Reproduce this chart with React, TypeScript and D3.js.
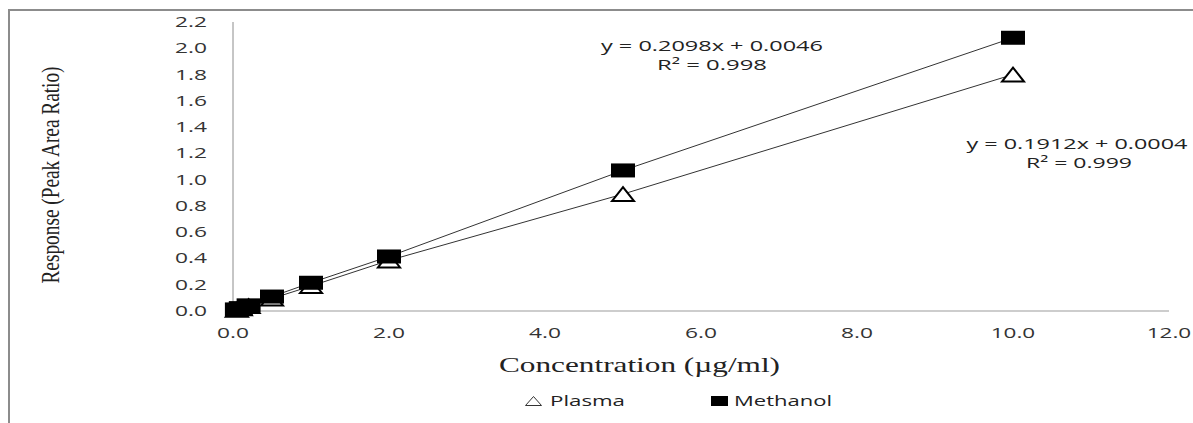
import React from "react";
import * as d3 from "d3";

const concentrations = [0.05, 0.1, 0.2, 0.5, 1, 2, 5, 10];
const plasmaValues = [0.01, 0.02, 0.038, 0.095, 0.19, 0.385, 0.89, 1.8];
const methanolValues = [0.012, 0.022, 0.043, 0.11, 0.215, 0.415, 1.07, 2.08];

const xTicks = [0, 2, 4, 6, 8, 10, 12];
const yTicks = [0, 0.2, 0.4, 0.6, 0.8, 1.0, 1.2, 1.4, 1.6, 1.8, 2.0, 2.2];

const plasmaFit = { eq: "y = 0.1912x + 0.0004", r2: "R² = 0.999" };
const methanolFit = { eq: "y = 0.2098x + 0.0046", r2: "R² = 0.998" };

const W = 1193;
const H = 423;
const sans = "'Open Sans', 'DejaVu Sans', sans-serif";
const serif = "'Liberation Serif', 'DejaVu Serif', serif";

// rough width of a numeric label, the source font is wide
const numWidth = (s: string) =>
  s.split("").reduce((w, c) => w + (c === "." ? 7 : 12.5), 0);

export default function App() {
  const x = d3.scaleLinear().domain([0, 12]).range([233, 1169]);
  const y = d3.scaleLinear().domain([0, 2.2]).range([311, 22]);

  const plasma = concentrations.map((c, i) => [c, plasmaValues[i]] as [number, number]);
  const methanol = concentrations.map((c, i) => [c, methanolValues[i]] as [number, number]);

  const line = d3
    .line<[number, number]>()
    .x((d) => x(d[0]))
    .y((d) => y(d[1]));

  const tri = (cx: number, cy: number, w: number, h: number) =>
    `M${cx - w / 2},${cy + h / 2}L${cx},${cy - h / 2}L${cx + w / 2},${cy + h / 2}Z`;

  return (
    <svg
      width={W}
      height={H}
      style={{ position: "absolute", left: 0, top: 0, background: "#fff" }}
    >
      {/* chart frame */}
      <rect x={9} y={10} width={W + 20} height={H + 20} fill="#fff" stroke="#8c8c8c" strokeWidth={2} />

      {/* axes */}
      <line x1={x(0)} x2={x(0)} y1={y(2.2)} y2={y(0)} stroke="#8c8c8c" strokeWidth={1} />
      <line x1={x(0)} x2={x(12)} y1={y(0)} y2={y(0)} stroke="#bdbdbd" strokeWidth={1.5} />

      {yTicks.map((t) => (
        <text
          key={"y" + t}
          x={207}
          y={y(t) + 5}
          textAnchor="end"
          fontFamily={sans}
          fontSize={14}
          fill="#333"
          textLength={numWidth(t.toFixed(1))}
          lengthAdjust="spacingAndGlyphs"
        >
          {t.toFixed(1)}
        </text>
      ))}
      {xTicks.map((t) => (
        <text
          key={"x" + t}
          x={x(t)}
          y={338}
          textAnchor="middle"
          fontFamily={sans}
          fontSize={14}
          fill="#333"
          textLength={numWidth(t.toFixed(1))}
          lengthAdjust="spacingAndGlyphs"
        >
          {t.toFixed(1)}
        </text>
      ))}

      {/* axis titles */}
      <text
        x={639.5}
        y={372}
        textAnchor="middle"
        fontFamily={serif}
        fontSize={21}
        fill="#222"
        textLength={281}
        lengthAdjust="spacingAndGlyphs"
      >
        Concentration (µg/ml)
      </text>
      <text
        transform="translate(59,175) rotate(-90)"
        textAnchor="middle"
        fontFamily={serif}
        fontSize={26}
        fill="#222"
        textLength={217}
        lengthAdjust="spacingAndGlyphs"
      >
        Response (Peak Area Ratio)
      </text>

      {/* series lines */}
      <path d={line(plasma) || ""} fill="none" stroke="#333" strokeWidth={1} />
      <path d={line(methanol) || ""} fill="none" stroke="#333" strokeWidth={1} />

      {/* markers */}
      {plasma.map((d, i) => (
        <path
          key={"p" + i}
          d={tri(x(d[0]), y(d[1]), 22, 14)}
          fill="#fff"
          stroke="#000"
          strokeWidth={2}
        />
      ))}
      {methanol.map((d, i) => (
        <rect
          key={"m" + i}
          x={x(d[0]) - 12}
          y={y(d[1]) - 7}
          width={24}
          height={14}
          fill="#000"
        />
      ))}

      {/* trendline labels */}
      <text x={712} y={51} textAnchor="middle" fontFamily={sans} fontSize={15} fill="#222"
        textLength={222} lengthAdjust="spacingAndGlyphs">
        {methanolFit.eq}
      </text>
      <text x={712} y={70} textAnchor="middle" fontFamily={sans} fontSize={15} fill="#222"
        textLength={110} lengthAdjust="spacingAndGlyphs">
        {methanolFit.r2}
      </text>
      <text x={1077} y={149} textAnchor="middle" fontFamily={sans} fontSize={15} fill="#222"
        textLength={221} lengthAdjust="spacingAndGlyphs">
        {plasmaFit.eq}
      </text>
      <text x={1079} y={168} textAnchor="middle" fontFamily={sans} fontSize={15} fill="#222"
        textLength={106} lengthAdjust="spacingAndGlyphs">
        {plasmaFit.r2}
      </text>

      {/* legend */}
      <path d={tri(533.5, 401, 16, 9)} fill="#fff" stroke="#333" strokeWidth={1} />
      <text x={550} y={406} fontFamily={sans} fontSize={15} fill="#222"
        textLength={75} lengthAdjust="spacingAndGlyphs">
        Plasma
      </text>
      <rect x={711} y={396} width={17} height={10} fill="#000" />
      <text x={734} y={406} fontFamily={sans} fontSize={15} fill="#222"
        textLength={98} lengthAdjust="spacingAndGlyphs">
        Methanol
      </text>
    </svg>
  );
}
